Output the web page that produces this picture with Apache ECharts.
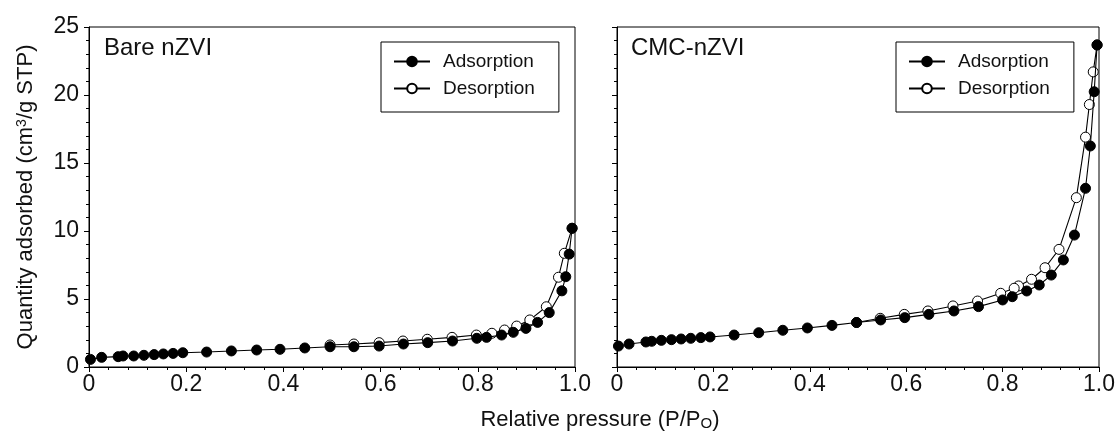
<!DOCTYPE html>
<html>
<head>
<meta charset="utf-8">
<script src="https://cdn.jsdelivr.net/npm/echarts@6/dist/echarts.min.js"></script>
<style>
html,body{margin:0;padding:0;background:#fff;}
#chart{width:1118px;height:437px;}
</style>
</head>
<body>
<div id="chart"></div>
<script>
// ---- Data ----
const panelTitles = ['Bare nZVI', 'CMC-nZVI'];
const seriesNames = ['Adsorption', 'Desorption'];
const xTickLabels = ['0', '0.2', '0.4', '0.6', '0.8', '1.0'];
const yTickLabels = ['0', '5', '10', '15', '20', '25'];

// Bare nZVI
const bareAdsX = [0.003, 0.026, 0.06, 0.07, 0.092, 0.113, 0.134, 0.153, 0.173, 0.193, 0.242, 0.293, 0.345, 0.393, 0.444, 0.496, 0.545, 0.597, 0.647, 0.697, 0.748, 0.798, 0.818, 0.849, 0.873, 0.899, 0.923, 0.947, 0.973, 0.981, 0.988, 0.994];
const bareAdsY = [0.56, 0.71, 0.76, 0.81, 0.81, 0.86, 0.91, 0.96, 1.0, 1.05, 1.1, 1.18, 1.25, 1.30, 1.40, 1.49, 1.49, 1.54, 1.69, 1.79, 1.91, 2.11, 2.18, 2.35, 2.55, 2.84, 3.28, 4.0, 5.6, 6.64, 8.3, 10.2];
const bareDesX = [0.994, 0.978, 0.966, 0.941, 0.907, 0.88, 0.855, 0.829, 0.797, 0.747, 0.696, 0.646, 0.597, 0.545, 0.496];
const bareDesY = [10.2, 8.36, 6.6, 4.43, 3.46, 3.01, 2.72, 2.48, 2.35, 2.18, 2.04, 1.91, 1.79, 1.69, 1.62];

// CMC-nZVI
const cmcAdsX = [0.003, 0.025, 0.06, 0.072, 0.092, 0.113, 0.133, 0.153, 0.174, 0.193, 0.243, 0.294, 0.344, 0.395, 0.446, 0.497, 0.547, 0.597, 0.647, 0.699, 0.75, 0.8, 0.82, 0.85, 0.876, 0.901, 0.926, 0.949, 0.972, 0.982, 0.99, 0.996];
const cmcAdsY = [1.54, 1.69, 1.84, 1.89, 1.96, 2.01, 2.06, 2.11, 2.16, 2.21, 2.35, 2.52, 2.70, 2.87, 3.06, 3.27, 3.46, 3.63, 3.87, 4.12, 4.44, 4.93, 5.17, 5.59, 6.03, 6.76, 7.87, 9.7, 13.14, 16.25, 20.24, 23.68];
const cmcDesX = [0.996, 0.988, 0.98, 0.972, 0.953, 0.917, 0.888, 0.86, 0.833, 0.824, 0.796, 0.748, 0.697, 0.645, 0.596, 0.546, 0.497];
const cmcDesY = [23.68, 21.7, 19.3, 16.9, 12.45, 8.65, 7.3, 6.45, 5.96, 5.79, 5.42, 4.85, 4.49, 4.12, 3.87, 3.58, 3.27];

// ---- Build ----
const pairs = (xs, ys) => xs.map((x, i) => [x, ys[i]]);
const FONT = '"Liberation Sans", Arial, sans-serif';
const TXT = '#111';

function xAxisCfg(gi) {
  return {
    gridIndex: gi, type: 'value', min: 0, max: 1, interval: 0.2,
    axisLine: { show: true, lineStyle: { color: '#000', width: 1 } },
    axisTick: { show: true, length: 5, lineStyle: { color: '#000' } },
    minorTick: { show: true, splitNumber: 5, length: 3, lineStyle: { color: '#000' } },
    splitLine: { show: false },
    axisLabel: {
      color: TXT, fontSize: 23, fontFamily: FONT, margin: 6,
      formatter: v => xTickLabels[Math.round(v / 0.2)]
    }
  };
}
function yAxisCfg(gi, showLabel) {
  const c = {
    gridIndex: gi, type: 'value', min: 0, max: 25, interval: 5,
    axisLine: { show: true, lineStyle: { color: '#000', width: 1 } },
    axisTick: { show: true, length: 5, lineStyle: { color: '#000' } },
    minorTick: { show: true, splitNumber: 5, length: 3, lineStyle: { color: '#000' } },
    splitLine: { show: false },
    axisLabel: {
      show: showLabel, color: TXT, fontSize: 23, fontFamily: FONT, margin: 10,
      formatter: v => yTickLabels[Math.round(v / 5)]
    }
  };
  if (showLabel) {
    c.name = 'Quantity adsorbed (cm{sup|3}/g STP)';
    c.nameLocation = 'middle';
    c.nameGap = 52;
    c.nameTextStyle = {
      color: TXT, fontSize: 22, fontFamily: FONT,
      rich: { sup: { fontSize: 14, fontFamily: FONT, color: TXT, verticalAlign: 'top', lineHeight: 22 } }
    };
  }
  return c;
}
function adsSeries(gi, data) {
  return {
    name: seriesNames[0], type: 'line', xAxisIndex: gi, yAxisIndex: gi, data,
    symbol: 'circle', symbolSize: 10, color: '#000',
    lineStyle: { color: '#000', width: 1.1 },
    itemStyle: { color: '#000', borderColor: '#000', borderWidth: 1 },
    animation: false, z: 3
  };
}
function desSeries(gi, data) {
  return {
    name: seriesNames[1], type: 'line', xAxisIndex: gi, yAxisIndex: gi, data,
    symbol: 'circle', symbolSize: 10, color: '#000',
    lineStyle: { color: '#000', width: 1.1 },
    itemStyle: { color: '#fff', borderColor: '#000', borderWidth: 1 },
    animation: false, z: 2
  };
}
function legendCfg(left) {
  return {
    data: seriesNames, left, top: 42, orient: 'vertical',
    itemWidth: 36, itemHeight: 12, itemGap: 8,
    padding: [10, 24, 14, 12],
    borderColor: '#000', borderWidth: 1, backgroundColor: '#fff',
    textStyle: { color: TXT, fontSize: 19, fontFamily: FONT, padding: [0, 0, 0, 8] },
    selectedMode: false
  };
}

const chart = echarts.init(document.getElementById('chart'), null, { renderer: 'canvas' });
chart.setOption({
  animation: false,
  backgroundColor: '#fff',
  grid: [
    { left: 89, top: 27, width: 486, height: 340, show: true, borderColor: '#000', borderWidth: 1, backgroundColor: 'transparent' },
    { left: 617, top: 27, width: 485, height: 340, show: true, borderColor: '#000', borderWidth: 1, backgroundColor: 'transparent' }
  ],
  xAxis: [xAxisCfg(0), xAxisCfg(1)],
  yAxis: [yAxisCfg(0, true), yAxisCfg(1, false)],
  title: [
    { text: panelTitles[0], left: 104, top: 36, padding: 0, textStyle: { color: TXT, fontSize: 24, fontWeight: 'normal', fontFamily: FONT } },
    { text: panelTitles[1], left: 631, top: 36, padding: 0, textStyle: { color: TXT, fontSize: 24, fontWeight: 'normal', fontFamily: FONT } }
  ],
  legend: [legendCfg(381), legendCfg(896)],
  graphic: [{
    type: 'text', x: 600, y: 420, silent: true,
    style: {
      text: 'Relative pressure (P/P{sub|O})',
      align: 'center', verticalAlign: 'middle',
      fontSize: 22, fontFamily: FONT, fill: TXT,
      rich: { sub: { fontSize: 15, fontFamily: FONT, fill: TXT, verticalAlign: 'bottom', padding: [8, 0, 0, 0] } }
    }
  }],
  series: [
    adsSeries(0, pairs(bareAdsX, bareAdsY)),
    desSeries(0, pairs(bareDesX, bareDesY)),
    adsSeries(1, pairs(cmcAdsX, cmcAdsY)),
    desSeries(1, pairs(cmcDesX, cmcDesY))
  ]
});
</script>
</body>
</html>
